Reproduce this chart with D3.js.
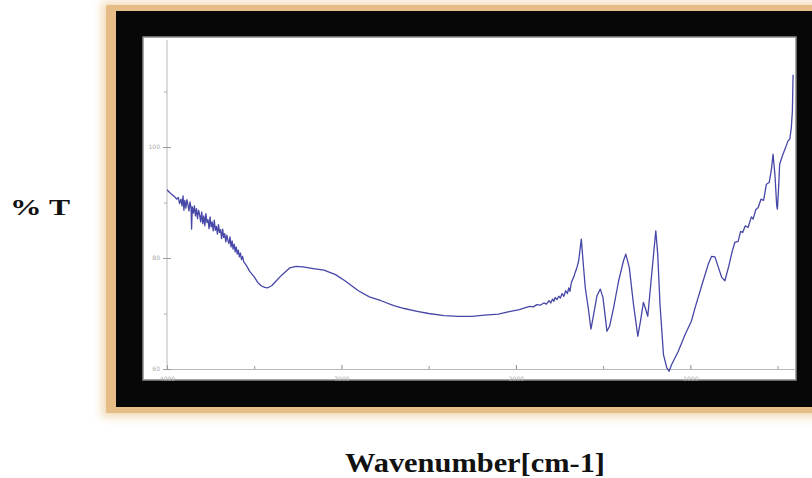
<!DOCTYPE html>
<html>
<head>
<meta charset="utf-8">
<script src="https://cdn.jsdelivr.net/npm/d3@7"></script>
<style>
  body { margin: 0; background: #fff; }
  svg { display: block; }
</style>
</head>
<body>
<script>
// FTIR spectrum: wavenumber (cm-1) and % transmittance
var wavenumber = [
  4000, 3985, 3970, 3955, 3945, 3935, 3928, 3920, 3914, 3908, 3903, 3898,
  3892, 3886, 3880, 3874, 3868, 3862, 3859, 3855, 3849, 3843, 3837, 3831,
  3825, 3819, 3813, 3807, 3801, 3795, 3789, 3783, 3777, 3771, 3765, 3759,
  3753, 3747, 3741, 3735, 3729, 3723, 3717, 3711, 3705, 3699, 3693, 3687,
  3681, 3675, 3669, 3663, 3657, 3651, 3645, 3639, 3633, 3627, 3621, 3615,
  3609, 3603, 3597, 3591, 3585, 3579, 3573, 3567, 3560, 3550, 3540, 3526,
  3500, 3480, 3460, 3440, 3425, 3400, 3373, 3340, 3297, 3260, 3220, 3162,
  3100, 3034, 2980, 2903, 2840, 2773, 2700, 2640, 2566, 2500, 2411, 2330,
  2253, 2180, 2100, 2045, 1980, 1950, 1920, 1900, 1880, 1860, 1840, 1825,
  1810, 1800, 1790, 1782, 1775, 1765, 1754, 1745, 1735, 1725, 1715, 1705,
  1697, 1690, 1684, 1678, 1668, 1660, 1650, 1640,
  1625, 1612, 1602, 1583, 1570, 1566, 1554, 1535, 1516, 1501, 1487, 1478,
  1463, 1440, 1411, 1383, 1370, 1350, 1326, 1301, 1286, 1269, 1258, 1244,
  1225, 1198, 1187, 1174, 1154, 1135, 1122, 1107, 1069, 1030, 994, 973,
  935, 897, 878, 859, 840, 820, 802, 780, 760, 745, 726, 712,
  700, 685, 669, 650, 640, 625, 611, 595, 580, 564, 548, 535,
  526, 515, 505, 501, 495, 488, 470, 455, 440, 430, 421, 415, 411
];
var transmittance = [
  92.3, 91.8, 91.4, 91.0, 90.6, 90.9, 89.8, 90.6, 89.4, 91.2, 88.6, 90.4,
  89.0, 90.5, 89.6, 88.5, 90.1, 89.0, 85.2, 89.2, 88.1, 89.4, 87.6, 88.9,
  87.1, 88.6, 87.8, 86.5, 88.3, 86.2, 87.6, 85.8, 88.0, 86.4, 86.9, 85.3,
  87.4, 85.6, 86.5, 84.9, 86.8, 85.0, 85.7, 84.3, 86.0, 84.6, 85.1, 83.5,
  85.2, 83.7, 84.4, 82.9, 84.1, 83.2, 82.6, 83.8, 82.0, 83.1, 81.6, 82.5,
  81.1, 82.0, 80.7, 81.4, 80.2, 80.9, 79.7, 80.3, 79.3, 78.9, 78.4, 77.6,
  76.6, 75.6, 75.0, 74.7, 74.6, 75.0, 75.9, 77.0, 78.2, 78.5, 78.4, 78.1,
  77.8, 77.0, 75.9, 74.1, 73.0, 72.3, 71.4, 70.9, 70.4, 70.0, 69.6, 69.5,
  69.5, 69.7, 69.9, 70.3, 70.7, 71.0, 71.3, 71.2, 71.6, 71.5, 71.9, 71.7,
  72.3, 71.9, 72.6, 72.2, 72.9, 72.5, 73.1, 72.8, 73.6, 73.1, 74.1, 73.6,
  74.6, 74.0, 75.3, 75.9, 76.6, 77.4, 78.3, 79.5,
  83.4, 78.3, 74.6, 70.5, 67.2, 67.8, 69.9, 73.2, 74.4, 72.9, 69.2, 66.8,
  67.7, 71.0, 75.9, 79.5, 80.7, 78.3, 71.7, 65.9, 68.6, 72.0, 71.0, 69.5,
  75.9, 84.9, 80.7, 71.7, 62.6, 60.2, 59.6, 60.8, 63.2, 66.2, 68.6, 71.0,
  75.0, 78.9, 80.3, 80.2, 78.4, 76.5, 75.9, 78.5, 81.2, 82.8, 83.0, 84.8,
  84.6, 85.8, 85.5, 87.4, 87.0, 88.7, 89.1, 90.6, 90.4, 93.3, 93.6, 96.0,
  98.7, 95.0, 89.5, 88.8, 92.0, 96.9, 98.6, 99.8, 101.1, 101.4, 103.5, 106.5, 113.0
];
var xTicks = [4000, 3000, 2000, 1000];
var xMinorTicks = [3500, 2500, 1500, 500];
var yTicks = [60, 80, 100];
var yMinorTicks = [70, 90, 110];

var W = 812, H = 478;
var plot = { left: 167, right: 795, top: 37, bottom: 369 };

var svg = d3.select("body").append("svg")
    .attr("width", W)
    .attr("height", H);

var defs = svg.append("defs");
defs.append("filter").attr("id", "glow")
    .attr("x", "-10%").attr("y", "-10%").attr("width", "120%").attr("height", "120%")
    .append("feGaussianBlur").attr("stdDeviation", 5);
defs.append("filter").attr("id", "soft")
    .append("feGaussianBlur").attr("stdDeviation", 0.35);

// picture frame: orange glow, black border, white sheet
svg.append("rect")
    .attr("x", 102).attr("y", 2).attr("width", 730).attr("height", 415)
    .attr("fill", "#f1d8b4").attr("filter", "url(#glow)");
svg.append("rect")
    .attr("x", 106).attr("y", 5).attr("width", 720).attr("height", 408)
    .attr("fill", "#e6bd86");
svg.append("rect")
    .attr("x", 116).attr("y", 11).attr("width", 710).attr("height", 396)
    .attr("fill", "#070707");
svg.append("rect")
    .attr("x", 143).attr("y", 37).attr("width", 653).attr("height", 343)
    .attr("fill", "#fff")
    .attr("stroke", "#8a8a8a").attr("stroke-width", 1.5);

// scales
var x = d3.scaleLinear().domain([4000, 400]).range([plot.left, plot.right]);
var y = d3.scaleLinear().domain([60, 120]).range([plot.bottom, plot.bottom - 6 * 55.5]);

var axisColor = "#b8b8b8";
var fmt = d3.format("d");

// x axis
var xAxis = svg.append("g")
    .attr("transform", "translate(0," + plot.bottom + ")")
    .call(d3.axisBottom(x).tickValues(xTicks).tickFormat(fmt)
        .tickSizeInner(-4).tickSizeOuter(0).tickPadding(8));
xAxis.select(".domain").attr("stroke", axisColor);
xAxis.selectAll(".tick line").attr("stroke", "#888");
xAxis.selectAll(".tick text")
    .attr("fill", "#aaa").attr("font-size", 6).attr("font-family", "DejaVu Sans");
svg.append("g")
    .attr("transform", "translate(0," + plot.bottom + ")")
    .call(d3.axisBottom(x).tickValues(xMinorTicks).tickSize(-3).tickFormat(""))
    .call(function(g) { g.select(".domain").remove(); })
    .selectAll(".tick line").attr("stroke", "#999");

// y axis
var yAxis = svg.append("g")
    .attr("transform", "translate(" + plot.left + ",0)")
    .call(d3.axisLeft(y).tickValues(yTicks).tickFormat(fmt)
        .tickSizeInner(4).tickSizeOuter(0).tickPadding(3));
yAxis.select(".domain").attr("stroke", axisColor)
    .attr("d", "M0," + (plot.top + 3) + "V" + plot.bottom);
yAxis.selectAll(".tick line").attr("stroke", "#999").attr("x2", 4).attr("x1", -4);
yAxis.selectAll(".tick text")
    .attr("fill", "#aaa").attr("font-size", 6).attr("font-family", "DejaVu Sans");
svg.append("g")
    .attr("transform", "translate(" + plot.left + ",0)")
    .call(d3.axisLeft(y).tickValues(yMinorTicks).tickSize(3).tickFormat(""))
    .call(function(g) { g.select(".domain").remove(); })
    .selectAll(".tick line").attr("stroke", "#aaa");

// spectrum
var data = wavenumber.map(function(w, i) { return { wn: w, t: transmittance[i] }; });
var line = d3.line()
    .x(function(d) { return x(d.wn); })
    .y(function(d) { return y(d.t); });

svg.append("path")
    .datum(data)
    .attr("fill", "none")
    .attr("stroke", "#4646a8")
    .attr("stroke-width", 1.3)
    .attr("stroke-linejoin", "round")
    .attr("filter", "url(#soft)")
    .attr("d", line);

// axis titles
svg.append("text")
    .attr("x", 10).attr("y", 215)
    .attr("font-family", "Liberation Serif").attr("font-weight", "bold")
    .attr("font-size", 24)
    .attr("textLength", 60).attr("lengthAdjust", "spacingAndGlyphs")
    .attr("fill", "#111")
    .text("% T");

svg.append("text")
    .attr("x", 345).attr("y", 472)
    .attr("font-family", "Liberation Serif").attr("font-weight", "bold")
    .attr("font-size", 28)
    .attr("textLength", 260).attr("lengthAdjust", "spacingAndGlyphs")
    .attr("fill", "#111")
    .text("Wavenumber[cm-1]");
</script>
</body>
</html>
